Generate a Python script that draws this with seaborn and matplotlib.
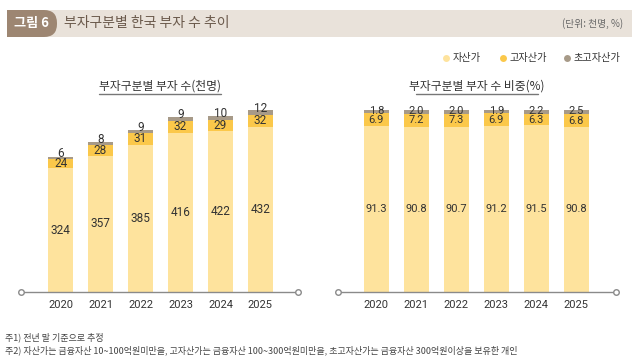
import seaborn as sns
import matplotlib.pyplot as plt
import numpy as np
from matplotlib.patches import Rectangle, FancyBboxPatch

# data
years = ["2020", "2021", "2022", "2023", "2024", "2025"]
wealthy = [324, 357, 385, 416, 422, 432]
high = [24, 28, 31, 32, 29, 32]
ultra = [6, 8, 9, 9, 10, 12]
share_wealthy = [91.3, 90.8, 90.7, 91.2, 91.5, 90.8]
share_high = [6.9, 7.2, 7.3, 6.9, 6.3, 6.8]
share_ultra = [1.8, 2.0, 2.0, 1.9, 2.2, 2.5]

series_names = ["자산가", "고자산가", "초고자산가"]
c_light = "#fee39d"
c_mid = "#fbc84a"
c_top = "#a79a88"

sns.set_style("white")
plt.rcParams["font.family"] = ["Noto Sans CJK KR", "DejaVu Sans"]
NUM = ["Roboto", "DejaVu Sans"]

fig = plt.figure(figsize=(6.4, 3.62), dpi=100)

# overlay in pixel coords for the header, legend and notes
bg = fig.add_axes([0, 0, 1, 1])
bg.set_xlim(0, 640)
bg.set_ylim(362, 0)
bg.axis("off")
bg.add_patch(Rectangle((7, 10), 625, 27, color="#e9e2da", lw=0))
bg.add_patch(FancyBboxPatch((7, 10), 50, 27, boxstyle="round,pad=0,rounding_size=13",
                            color="#9d8672", lw=0))
bg.add_patch(Rectangle((7, 10), 25, 27, color="#9d8672", lw=0))
bg.text(31, 23.5, "그림 6", color="white", fontsize=9.5, fontweight="bold",
        ha="center", va="center")
bg.text(64, 23.5, "부자구분별 한국 부자 수 추이", color="#6b5a4c", fontsize=10,
        ha="left", va="center")
bg.text(623, 23.5, "(단위: 천명, %)", color="#666666", fontsize=7,
        ha="right", va="center")

# legend
for mx, name, col in zip([446, 503, 567], series_names, [c_light, c_mid, c_top]):
    bg.plot(mx, 58, "o", ms=5, color=col, mec="none")
    bg.text(mx + 7, 58, name, fontsize=7.3, color="#333333", ha="left", va="center")

# panel subtitles
for cx, sub in [(160, "부자구분별 부자 수(천명)"), (477, "부자구분별 부자 수 비중(%)")]:
    bg.text(cx, 86, sub, fontsize=8.5, color="#333333", ha="center", va="center")
    bg.plot([cx - 61, cx + 61], [94, 94], color="#777777", lw=1)

bg.text(5, 337, "주1) 전년 말 기준으로 추정", fontsize=6.5, color="#444444", va="center")
bg.text(5, 350, "주2) 자산가는 금융자산 10~100억원미만을, 고자산가는 금융자산 100~300억원미만을, "
        "초고자산가는 금융자산 300억원이상을 보유한 개인", fontsize=6.5, color="#444444", va="center")


def panel(rect, xlim, ymax, base, mid, top, fmt, size, top_offset):
    ax = fig.add_axes(rect)
    base = np.array(base)
    mid = np.array(mid)
    top = np.array(top)
    total = base + mid + top
    sns.barplot(x=years, y=total, color=c_top, width=0.62, saturation=1, ax=ax)
    sns.barplot(x=years, y=base + mid, color=c_mid, width=0.62, saturation=1, ax=ax)
    sns.barplot(x=years, y=base, color=c_light, width=0.62, saturation=1, ax=ax)
    for p in ax.patches:
        p.set_linewidth(0)
    for i in range(len(years)):
        ax.text(i, base[i] / 2, fmt(base[i]), ha="center", va="center",
                fontsize=size, color="#333333", family=NUM)
        ax.text(i, base[i] + mid[i] / 2, fmt(mid[i]), ha="center", va="center",
                fontsize=size, color="#333333", family=NUM)
        ax.annotate(fmt(top[i]), (i, total[i] - top[i] / 2), xytext=(0, top_offset),
                    textcoords="offset points", ha="center", va="center",
                    fontsize=size, color="#333333", family=NUM, annotation_clip=False)
    ax.set_xlim(*xlim)
    ax.set_ylim(0, ymax)
    ax.set_xlabel("")
    ax.set_ylabel("")
    ax.set_yticks([])
    for s in ["top", "left", "right"]:
        ax.spines[s].set_visible(False)
    ax.spines["bottom"].set_color("#8a8a8a")
    ax.spines["bottom"].set_linewidth(1)
    ax.tick_params(axis="x", length=0, pad=6, labelsize=8, labelcolor="#333333")
    for lab in ax.get_xticklabels():
        lab.set_family(NUM)
    ax.plot([0, 1], [0, 0], "o", transform=ax.transAxes, ms=4, mfc="white",
            mec="#8a8a8a", mew=1, clip_on=False, zorder=5)
    ax.patch.set_alpha(0)
    return ax


panel([21 / 640, 70 / 362, 277 / 640, 182 / 362], (-0.99, 5.94), 476,
      wealthy, high, ultra, lambda v: f"{v:d}", 8.5, 3)
panel([338 / 640, 70 / 362, 278 / 640, 182 / 362], (-0.96, 5.99), 100,
      share_wealthy, share_high, share_ultra, lambda v: f"{v:.1f}", 8, 0.5)

fig.savefig("out.png", dpi=100)
